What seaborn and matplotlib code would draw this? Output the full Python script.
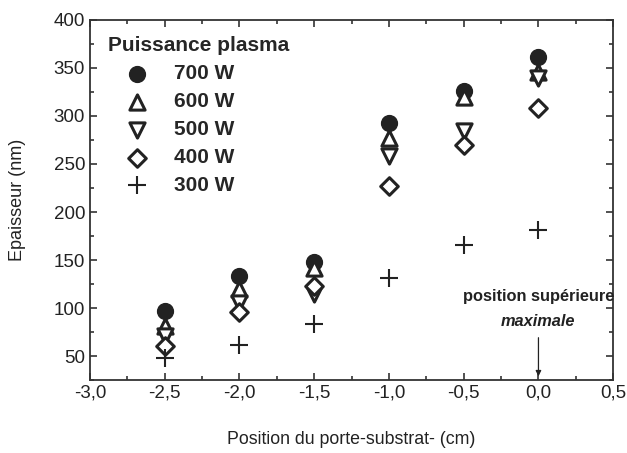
import numpy as np
import pandas as pd
import matplotlib
matplotlib.use("Agg")
import matplotlib.pyplot as plt
import seaborn as sns
from matplotlib.ticker import MultipleLocator, FuncFormatter

positions = [-2.5, -2.0, -1.5, -1.0, -0.5, 0.0]
ep_700 = [97, 133, 148, 293, 326, 361]
ep_600 = [81, 120, 142, 277, 320, 346]
ep_500 = [71, 105, 115, 258, 284, 340]
ep_400 = [60, 96, 123, 227, 270, 308]
ep_300 = [48, 61, 83, 131, 166, 181]
labels = ["700 W", "600 W", "500 W", "400 W", "300 W"]

sns.set_style("ticks")
plt.rcParams["font.family"] = ["Liberation Sans", "DejaVu Sans"]

fig = plt.figure(figsize=(6.27, 4.53), dpi=100)
ax = fig.add_axes([0.1435, 0.161, 0.8345, 0.795])

series = [ep_700, ep_600, ep_500, ep_400, ep_300]
styles = [
    dict(marker="o", s=130, facecolor="#222222", edgecolor="#222222", linewidth=1),
    dict(marker="^", s=120, facecolor="white", edgecolor="#222222", linewidth=2.2),
    dict(marker="v", s=120, facecolor="white", edgecolor="#222222", linewidth=2.2),
    dict(marker="D", s=80, facecolor="white", edgecolor="#222222", linewidth=2.2),
    dict(marker="+", s=150, color="#222222", linewidth=1.5),
]
for vals, lab, st in zip(series, labels, styles):
    df = pd.DataFrame({"x": positions, "y": vals})
    sns.scatterplot(data=df, x="x", y="y", ax=ax, label=lab, zorder=3, **st)

ax.set_xlim(-3.0, 0.5)
ax.set_ylim(25, 400)
ax.xaxis.set_major_locator(MultipleLocator(0.5))
ax.xaxis.set_minor_locator(MultipleLocator(0.25))
ax.yaxis.set_minor_locator(MultipleLocator(25))
ax.xaxis.set_major_formatter(FuncFormatter(lambda v, p: f"{v:.1f}".replace(".", ",")))
ax.set_yticks([50, 100, 150, 200, 250, 300, 350, 400])
ax.tick_params(which="both", direction="in", top=True, right=True, labelsize=13.5,
               width=1.2, color="#333333", labelcolor="#222222")
ax.tick_params(which="major", length=5)
ax.tick_params(which="minor", length=3)
for sp in ax.spines.values():
    sp.set_linewidth(1.3)
    sp.set_color("#333333")

ax.set_xlabel("Position du porte-substrat- (cm)", fontsize=12.8, labelpad=21, color="#222222")
ax.set_ylabel("Epaisseur (nm)", fontsize=13, labelpad=20, color="#222222")

leg = ax.legend(title="Puissance plasma", loc="upper left", bbox_to_anchor=(0.035, 0.955),
                frameon=False, prop={"weight": "bold", "size": 15}, labelspacing=0.43,
                handletextpad=0.35, borderaxespad=0.0, borderpad=0.0,
                markerscale=1.0, handlelength=2.8)
leg.get_title().set_fontweight("bold")
leg.get_title().set_fontsize(15)
leg._legend_box.align = "left"

ax.text(0.0, 112, "position supérieure", ha="center", va="center", fontsize=11.8,
        fontweight="bold", color="#222222")
ax.text(0.0, 86, "maximale", ha="center", va="center", fontsize=11.8,
        fontweight="bold", style="italic", color="#222222")
ax.annotate("", xy=(0.0, 26), xytext=(0.0, 72),
            arrowprops=dict(arrowstyle="-|>", color="#222222", lw=0.9,
                            mutation_scale=8))

fig.savefig("out.png", dpi=100)
